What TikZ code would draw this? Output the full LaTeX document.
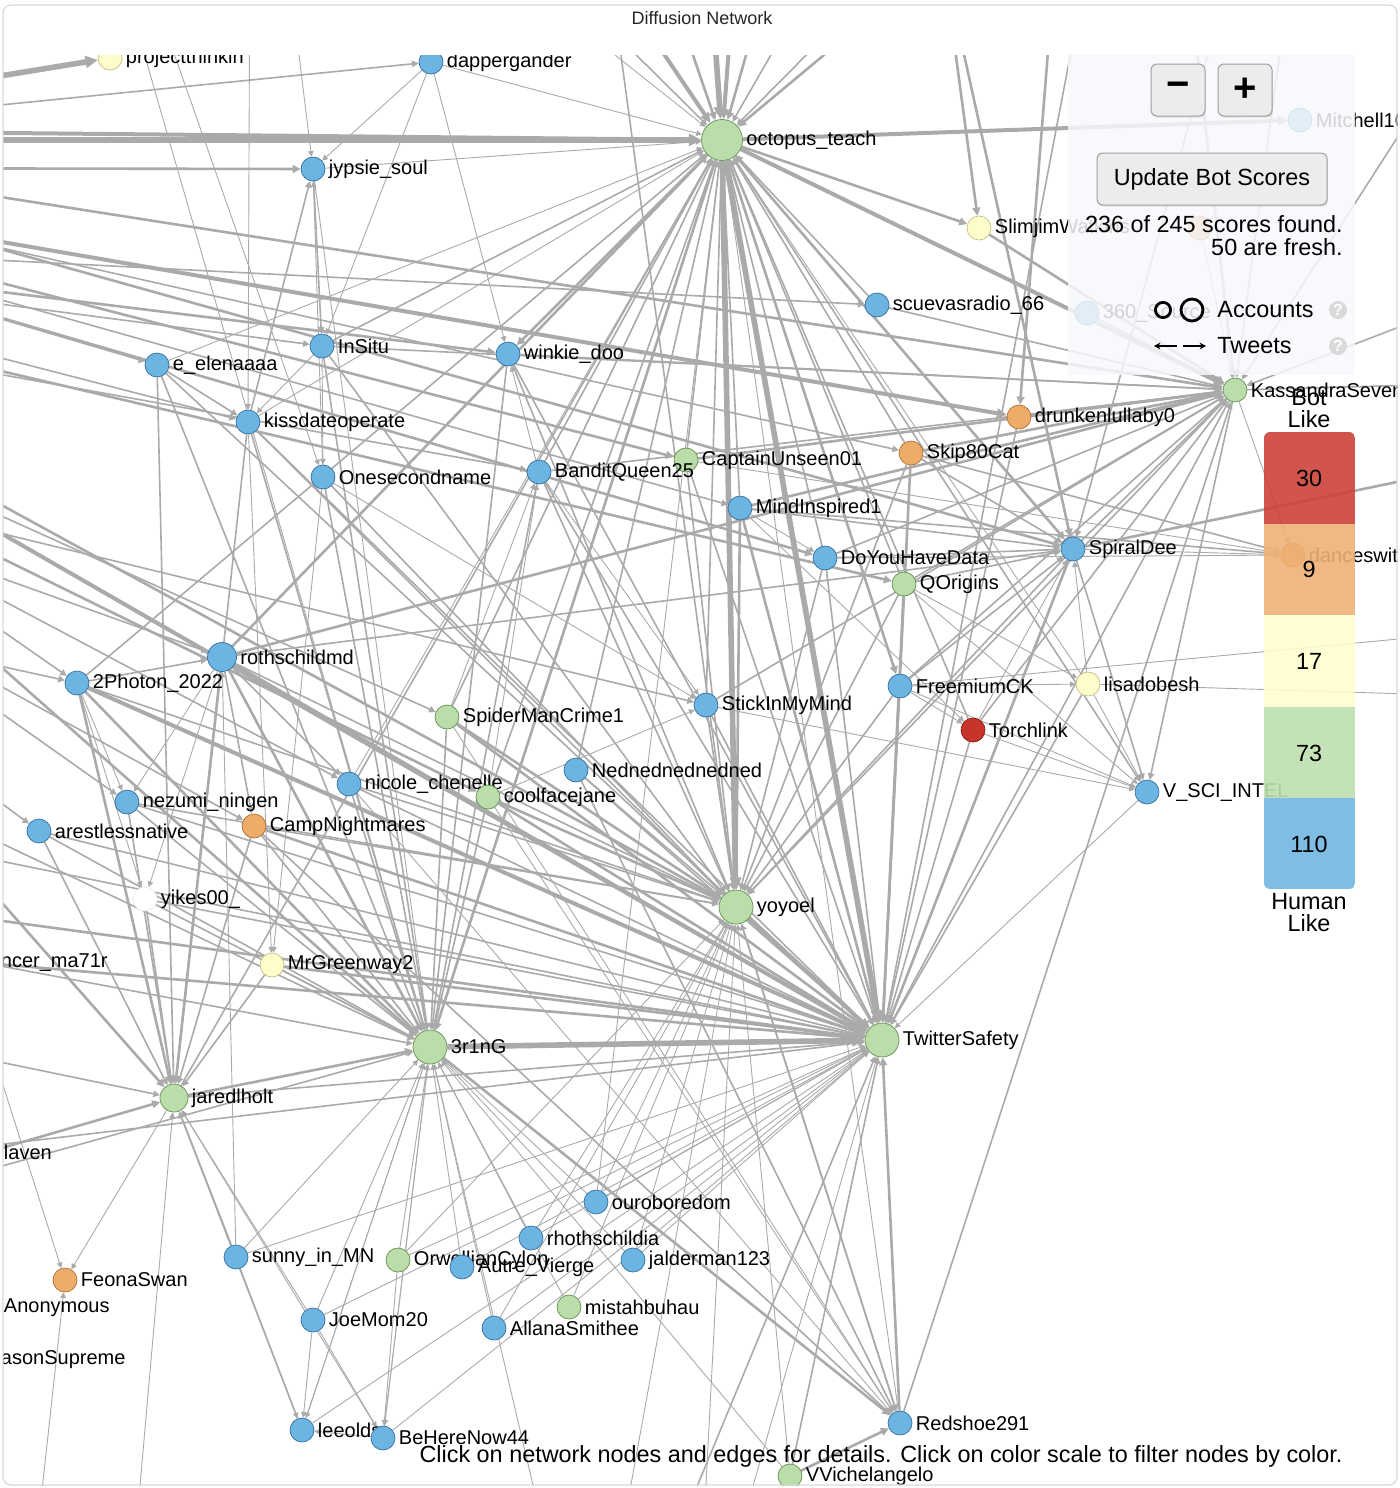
\documentclass[tikz,border=0pt]{standalone}
\usepackage{fontspec}
\setmainfont{Liberation Sans}
\usetikzlibrary{arrows.meta,shadows}

\definecolor{acctblue}{RGB}{108,180,226}
\definecolor{acctblueline}{RGB}{52,110,160}
\definecolor{acctgreen}{RGB}{186,221,170}
\definecolor{acctgreenline}{RGB}{100,142,84}
\definecolor{acctyellow}{RGB}{255,252,204}
\definecolor{acctyellowline}{RGB}{196,190,130}
\definecolor{acctorange}{RGB}{238,172,104}
\definecolor{acctorangeline}{RGB}{170,110,50}
\definecolor{acctred}{RGB}{200,52,44}
\definecolor{acctredline}{RGB}{130,30,25}
\definecolor{edgegray}{RGB}{170,170,170}
\definecolor{panelwhite}{RGB}{246,248,251}
\definecolor{barred}{RGB}{204,66,56}
\definecolor{barorange}{RGB}{238,176,116}
\definecolor{baryellow}{RGB}{255,253,206}
\definecolor{bargreen}{RGB}{190,223,176}
\definecolor{barblue}{RGB}{112,183,226}

\pgfdeclarelayer{edges}
\pgfsetlayers{edges,main}

\newcommand{\lblfont}{\fontsize{10}{12}\selectfont}
\newcommand{\uifont}{\fontsize{11.7}{14}\selectfont}

\tikzset{
  acct/.style={circle,draw,line width=0.35pt,inner sep=0pt,minimum size=12pt,
    label distance=0pt},
  every label/.style={font=\lblfont,inner sep=1.6pt,text=black},
  blue node/.style={acct,fill=acctblue,draw=acctblueline},
  green node/.style={acct,fill=acctgreen,draw=acctgreenline},
  yellow node/.style={acct,fill=acctyellow,draw=acctyellowline},
  orange node/.style={acct,fill=acctorange,draw=acctorangeline},
  red node/.style={acct,fill=acctred,draw=acctredline},
  white node/.style={acct,fill=white,draw=gray!15},
  hub/.style={minimum size=17pt},
  big hub/.style={minimum size=20.5pt},
  tw/.style={every edge/.style={draw=edgegray,line width=#1,
    -{Triangle[length=2.2pt 1.4,width=2.2pt 1.3]}}},
  e0/.style={tw=0.45pt},
  e1/.style={tw=0.8pt},
  e2/.style={tw=1.3pt},
  e3/.style={tw=2pt},
  e4/.style={tw=2.8pt},
  btn/.style={draw=gray!75,fill=gray!15,rounded corners=3pt,line width=0.5pt,
    drop shadow={opacity=0.2,shadow xshift=0.4pt,shadow yshift=-0.8pt}},
  qmark/.style={circle,fill=gray!30,text=white,inner sep=0pt,minimum size=9pt,
    font=\fontsize{8}{8}\selectfont\bfseries},
  legend arrow/.style={line width=0.9pt,-{Stealth[length=3.2pt,width=3.4pt]}}
}

\begin{document}
\begin{tikzpicture}[x=0.5pt,y=-0.5pt]
\useasboundingbox (0,0) rectangle (1400,1488);

% accounts
\begin{scope}
\clip (3,55) rectangle (1397,1485);
\node[yellow node] (proj) at (110,58) [label=right:projectthinkin] {};
\node[blue node] (dapper) at (431,62) [label=right:dappergander] {};
\node[green node,big hub] (octo) at (722,140) [label=right:octopus\_teach] {};
\node[blue node] (jypsie) at (313,169) [label=right:jypsie\_soul] {};
\node[blue node] (mitch) at (1300,120) [label=right:Mitchell10] {};
\node[yellow node] (slim) at (979,228) [label=right:SlimjimWatkins] {};
\node[orange node] (ghoul) at (1200,228) {};
\node[blue node] (scuev) at (877,305) [label=right:scuevasradio\_66] {};
\node[blue node] (sixty) at (1087,313) [label=right:360\_Source] {};
\node[blue node] (insitu) at (322,346) [label=right:InSitu] {};
\node[blue node] (elena) at (157,365) [label=right:e\_elenaaaa] {};
\node[blue node] (winkie) at (508,354) [label=right:winkie\_doo] {};
\node[green node] (kass) at (1235,390) [label=right:KassandraSever] {};
\node[orange node] (drunk) at (1019,417) [label=right:drunkenlullaby0] {};
\node[blue node] (kiss) at (248,422) [label=right:kissdateoperate] {};
\node[orange node] (skip) at (911,453) [label=right:Skip80Cat] {};
\node[green node] (capt) at (686,460) [label=right:CaptainUnseen01] {};
\node[blue node] (onesec) at (323,477) [label=right:Onesecondname] {};
\node[blue node] (bandit) at (539,472) [label=right:BanditQueen25] {};
\node[blue node] (mind) at (740,508) [label=right:MindInspired1] {};
\node[blue node] (doyou) at (825,558) [label=right:DoYouHaveData] {};
\node[green node] (qorig) at (904,584) [label=right:QOrigins] {};
\node[blue node] (spiral) at (1073,549) [label=right:SpiralDee] {};
\node[orange node] (dance) at (1293,555) [label=right:danceswith] {};
\node[blue node,minimum size=14.5pt] (roth) at (222,657) [label=right:rothschildmd] {};
\node[blue node] (photon) at (77,683) [label=right:2Photon\_2022] {};
\node[green node] (spider) at (447,717) [label=right:SpiderManCrime1] {};
\node[blue node] (stick) at (706,705) [label=right:StickInMyMind] {};
\node[blue node] (freem) at (900,686) [label=right:FreemiumCK] {};
\node[yellow node] (lisa) at (1088,684) [label=right:lisadobesh] {};
\node[red node] (torch) at (973,730) [label=right:Torchlink] {};
\node[blue node] (ned) at (576,770) [label=right:Nednednednedned] {};
\node[blue node] (nicole) at (349,784) [label=right:nicole\_chenelle] {};
\node[green node] (coolf) at (488,797) [label=right:coolfacejane] {};
\node[blue node] (nezumi) at (127,802) [label=right:nezumi\_ningen] {};
\node[blue node] (arest) at (39,831) [label=right:arestlessnative] {};
\node[orange node] (camp) at (254,826) [label=right:CampNightmares] {};
\node[blue node] (vsci) at (1147,792) [label=right:V\_SCI\_INTEL] {};
\node[white node] (yikes) at (145,899) [label=right:yikes00\_] {};
\node[green node,hub] (yoyoel) at (736,907) [label=right:yoyoel] {};
\node[blue node] (cancer) at (-15,963) [label=right:ncer\_ma71r] {};
\node[yellow node] (mrgreen) at (272,965) [label=right:MrGreenway2] {};
\node[green node,hub] (rng) at (430,1047) [label=right:3r1nG] {};
\node[green node,hub] (twit) at (882,1040) [label=right:TwitterSafety] {};
\node[green node,minimum size=14pt] (jared) at (174,1098) [label=right:jaredlholt] {};
\node[blue node] (laven) at (-12,1152) [label=right:laven] {};
\node[blue node] (ouro) at (596,1202) [label=right:ouroboredom] {};
\node[blue node] (rhoth) at (531,1238) [label=right:rhothschildia] {};
\node[blue node] (sunny) at (236,1257) [label=right:sunny\_in\_MN] {};
\node[green node] (orwell) at (398,1260) [label=right:OrwellianCylon] {};
\node[blue node] (autre) at (462,1267) [label=right:Autre\_Vierge] {};
\node[blue node] (jalder) at (633,1260) [label=right:jalderman123] {};
\node[orange node] (feona) at (65,1280) [label=right:FeonaSwan] {};
\node[green node] (mistah) at (569,1307) [label=right:mistahbuhau] {};
\node[blue node] (anon) at (-12,1308) [label=right:Anonymous] {};
\node[blue node] (joemom) at (313,1320) [label=right:JoeMom20] {};
\node[blue node] (allana) at (494,1328) [label=right:AllanaSmithee] {};
\node[blue node] (ason) at (-15,1360) [label=right:asonSupreme] {};
\node[blue node] (redshoe) at (900,1423) [label=right:Redshoe291] {};
\node[blue node] (leeolds) at (302,1430) [label=right:leeolds] {};
\node[blue node] (behere) at (383,1438) [label=right:BeHereNow44] {};
\node[green node] (vvich) at (790,1476) [label=right:VVichelangelo] {};
\end{scope}

% accounts outside the view
\coordinate (wa) at (-300,125);  \coordinate (wb) at (-300,140);
\coordinate (wc) at (-300,130);  \coordinate (wd) at (-300,168);
\coordinate (we) at (-300,135);  \coordinate (wf) at (-300,150);
\coordinate (wg) at (-300,165);  \coordinate (wh) at (-300,180);
\coordinate (wi) at (-300,190);  \coordinate (wj) at (-300,205);
\coordinate (wk) at (-300,215);  \coordinate (wl) at (-300,230);
\coordinate (wm) at (-300,245);  \coordinate (wn) at (-300,255);
\coordinate (wo) at (-300,265);  \coordinate (wp) at (-300,280);
\coordinate (wq) at (-300,300);  \coordinate (wr) at (-300,320);
\coordinate (ws) at (-300,340);  \coordinate (wt) at (-300,360);
\coordinate (wu) at (-300,380);  \coordinate (wv) at (-300,400);
\coordinate (ww) at (-300,410);  \coordinate (wx) at (-300,440);
\coordinate (wy) at (-300,460);  \coordinate (wz) at (-300,470);
\coordinate (va) at (-300,520);  \coordinate (vb) at (-300,560);
\coordinate (vc) at (-300,600);  \coordinate (vd) at (-300,700);
\coordinate (ve) at (-300,800);  \coordinate (vf) at (-300,880);
\coordinate (vg) at (-300,1000); \coordinate (vh) at (-300,1180);
\coordinate (vi) at (-300,1250); \coordinate (vj) at (-40,950);
\coordinate (vk) at (-300,420);  \coordinate (vl) at (-300,580);
\coordinate (vm) at (-300,500);  \coordinate (vn) at (-300,230);
\coordinate (tA) at (560,-100);  \coordinate (tB) at (640,-100);
\coordinate (tC) at (705,-100);  \coordinate (tD) at (740,-100);
\coordinate (tE) at (790,-100);  \coordinate (tF) at (860,-100);
\coordinate (tG) at (960,-100);  \coordinate (tH) at (480,-100);
\coordinate (tI) at (420,-100);  \coordinate (tJ) at (1010,-100);
\coordinate (tK) at (935,-100);  \coordinate (tL) at (930,-100);
\coordinate (tM) at (280,-100);  \coordinate (tN) at (250,-100);
\coordinate (tO) at (120,-100);  \coordinate (tP) at (1300,-100);
\coordinate (tQ) at (1180,-100); \coordinate (tR) at (1250,-100);
\coordinate (tS) at (1060,-100); \coordinate (tT) at (1100,-100);
\coordinate (tU) at (600,-100);  \coordinate (tV) at (100,-100);
\coordinate (ra) at (1600,440);  \coordinate (rb) at (1600,380);
\coordinate (rc) at (1600,620);  \coordinate (rd) at (1600,250);
\coordinate (re) at (1600,700);  \coordinate (rf) at (1550,-100);
\coordinate (bA) at (650,1600);  \coordinate (bB) at (560,1600);
\coordinate (bC) at (610,1600);  \coordinate (bD) at (30,1600);
\coordinate (bE) at (130,1600);  \coordinate (bF) at (720,1600);
\coordinate (bG) at (700,1600);

% tweets
\begin{pgfonlayer}{edges}
\begin{scope}
\clip (3,55) rectangle (1397,1485);
% from off the left edge
\path[e4] (wa) edge (proj) (wb) edge (octo);
\path[e3] (wc) edge (octo) (wi) edge (drunk) (wt) edge (twit);
\path[e2] (wd) edge (jypsie) (wf) edge (kass) (wg) edge (spiral)
  (wj) edge (capt) (wl) edge (doyou) (wn) edge (winkie) (wq) edge (qorig)
  (ws) edge (yoyoel) (wv) edge (rng) (ww) edge (coolf) (vb) edge (jared)
  (vf) edge (twit) (laven) edge (jared) (cancer) edge (twit);
\path[e1] (we) edge (dapper) (wh) edge (skip) (wk) edge (mind)
  (wm) edge (scuev) (wo) edge (insitu) (wp) edge (kiss) (wr) edge (bandit)
  (wu) edge (spider) (wx) edge (nicole) (wy) edge (stick) (wz) edge (roth)
  (va) edge (camp) (vc) edge (photon) (vd) edge (rng) (ve) edge (twit)
  (vg) edge (jared) (vh) edge (twit) (vi) edge (rng) (vk) edge (photon)
  (vl) edge (arest) (vm) edge (nezumi) (vn) edge (elena) (cancer) edge (rng);
\path[e0] (vj) edge (feona);
% from off the top edge
\path[e4] (tC) edge (octo);
\path[e3] (tA) edge (octo) (tD) edge (octo);
\path[e2] (tB) edge (octo) (tE) edge (octo) (tJ) edge (octo) (tK) edge (slim)
  (tL) edge (spiral) (tQ) edge (kass) (tS) edge (drunk);
\path[e1] (tF) edge (octo) (tG) edge (octo) (tH) edge (octo) (tP) edge (kass)
  (tR) edge (spiral) (tT) edge (twit) (tU) edge (yoyoel);
\path[e0] (tI) edge (octo) (tM) edge (jypsie) (tN) edge (kiss)
  (tO) edge (onesec) (tV) edge (rng);
% off the right and bottom edges
\path[e2] (spiral) edge (ra);
\path[e1] (kass) edge (rb) (rd) edge (kass) (rf) edge (kass) (bA) edge (twit);
\path[e0] (freem) edge (rc) (lisa) edge (re) (bB) edge (rng) (bC) edge (yoyoel)
  (bD) edge (feona) (bE) edge (jared) (bF) edge (twit) (bG) edge (yoyoel);
% between accounts
\path[e4] (octo) edge (yoyoel) (octo) edge (twit) (rng) edge (twit);
\path[e3] (octo) edge (kass) (octo) edge (mitch) (yoyoel) edge (twit)
  (photon) edge (twit);
\path[e2] (octo) edge (rng) (roth) edge (octo) (octo) edge (winkie)
  (octo) edge (freem) (octo) edge (spiral) (octo) edge (slim)
  (spiral) edge (twit) (skip) edge (twit) (mind) edge (twit) (qorig) edge (twit)
  (roth) edge (kass) (photon) edge (rng) (roth) edge (rng) (roth) edge (jared)
  (photon) edge (jared) (camp) edge (twit) (mrgreen) edge (twit) (coolf) edge (twit)
  (roth) edge (twit) (spider) edge (twit) (rng) edge (redshoe) (vvich) edge (redshoe)
  (redshoe) edge (twit) (jared) edge (rng) (spider) edge (yoyoel) (coolf) edge (yoyoel)
  (mind) edge (yoyoel) (drunk) edge (kass) (skip) edge (kass) (capt) edge (kass)
  (mind) edge (kass) (slim) edge (kass);
\path[e1] (octo) edge (vsci) (roth) edge (spiral) (kass) edge (twit)
  (drunk) edge (twit) (doyou) edge (twit) (nicole) edge (yoyoel)
  (capt) edge (yoyoel) (stick) edge (yoyoel) (kiss) edge (jypsie)
  (elena) edge (kiss) (jypsie) edge (insitu)
  (bandit) edge (octo) (capt) edge (octo) (mind) edge (octo) (doyou) edge (octo)
  (qorig) edge (octo) (stick) edge (octo) (torch) edge (octo) (ned) edge (octo)
  (spider) edge (octo) (coolf) edge (octo) (insitu) edge (octo) (skip) edge (octo)
  (scuev) edge (octo) (photon) edge (octo) (jared) edge (octo)
  (roth) edge (yoyoel) (photon) edge (yoyoel) (ned) edge (yoyoel) (bandit) edge (yoyoel)
  (winkie) edge (yoyoel) (kiss) edge (yoyoel) (onesec) edge (yoyoel) (insitu) edge (yoyoel)
  (doyou) edge (yoyoel) (freem) edge (yoyoel) (qorig) edge (yoyoel) (skip) edge (yoyoel)
  (kass) edge (yoyoel) (spiral) edge (yoyoel) (camp) edge (yoyoel) (nezumi) edge (yoyoel)
  (nicole) edge (twit) (jared) edge (twit) (nezumi) edge (twit) (arest) edge (twit)
  (yikes) edge (twit) (ned) edge (twit) (stick) edge (twit) (freem) edge (twit)
  (torch) edge (twit) (bandit) edge (twit) (capt) edge (twit) (winkie) edge (twit)
  (kiss) edge (twit) (elena) edge (twit) (lisa) edge (twit) (vvich) edge (twit)
  (nezumi) edge (rng) (arest) edge (rng) (camp) edge (rng) (yikes) edge (rng)
  (mrgreen) edge (rng) (nicole) edge (rng) (spider) edge (rng) (coolf) edge (rng)
  (kiss) edge (rng) (elena) edge (rng) (onesec) edge (rng) (insitu) edge (rng)
  (bandit) edge (rng) (winkie) edge (rng)
  (nezumi) edge (jared) (arest) edge (jared) (yikes) edge (jared) (camp) edge (jared)
  (mrgreen) edge (jared) (elena) edge (jared) (kiss) edge (jared) (sunny) edge (jared)
  (leeolds) edge (jared)
  (bandit) edge (kass) (winkie) edge (kass) (insitu) edge (kass) (scuev) edge (kass)
  (doyou) edge (kass) (qorig) edge (kass) (sixty) edge (kass) (spiral) edge (kass)
  (stick) edge (kass) (freem) edge (kass) (torch) edge (kass) (redshoe) edge (kass)
  (doyou) edge (spiral) (qorig) edge (spiral) (mind) edge (spiral) (skip) edge (spiral)
  (freem) edge (spiral) (spiral) edge (vsci) (kass) edge (vsci)
  (mind) edge (dance) (skip) edge (dance) (photon) edge (roth) (roth) edge (camp)
  (roth) edge (nicole) (yoyoel) edge (redshoe) (camp) edge (redshoe) (ned) edge (redshoe)
  (redshoe) edge (yoyoel);
\path[e0] (dapper) edge (octo) (dapper) edge (jypsie) (dapper) edge (insitu)
  (dapper) edge (winkie) (lisa) edge (spiral) (torch) edge (spiral)
  (lisa) edge (vsci) (freem) edge (vsci) (torch) edge (vsci) (qorig) edge (vsci)
  (stick) edge (vsci) (vsci) edge (twit) (doyou) edge (dance) (capt) edge (dance)
  (spiral) edge (dance) (kass) edge (dance) (freem) edge (lisa) (qorig) edge (lisa)
  (freem) edge (torch) (mind) edge (torch) (mind) edge (doyou) (ghoul) edge (kass)
  (lisa) edge (octo) (nicole) edge (octo) (kiss) edge (octo) (redshoe) edge (octo)
  (jypsie) edge (octo) (elena) edge (octo) (ouro) edge (octo)
  (bandit) edge (winkie) (spider) edge (bandit) (coolf) edge (bandit) (bandit) edge (stick)
  (coolf) edge (stick) (onesec) edge (stick)
  (insitu) edge (onesec) (onesec) edge (jypsie) (insitu) edge (kiss)
  (kiss) edge (mrgreen) (onesec) edge (mrgreen) (photon) edge (yikes) (roth) edge (yikes)
  (photon) edge (nezumi) (roth) edge (nezumi) (sunny) edge (roth)
  (spider) edge (redshoe) (nicole) edge (redshoe) (coolf) edge (redshoe)
  (vvich) edge (yoyoel) (vvich) edge (rng)
  (sunny) edge (twit) (orwell) edge (twit) (rhoth) edge (twit) (autre) edge (twit)
  (jalder) edge (twit) (mistah) edge (twit) (ouro) edge (twit) (allana) edge (twit)
  (joemom) edge (twit) (behere) edge (twit) (leeolds) edge (twit)
  (ouro) edge (rng) (rhoth) edge (rng) (orwell) edge (rng) (autre) edge (rng)
  (sunny) edge (rng) (joemom) edge (rng) (mistah) edge (rng) (allana) edge (rng)
  (jalder) edge (rng) (behere) edge (rng) (leeolds) edge (rng)
  (ouro) edge (yoyoel) (jalder) edge (yoyoel) (mistah) edge (yoyoel) (rhoth) edge (yoyoel)
  (allana) edge (yoyoel) (orwell) edge (yoyoel)
  (joemom) edge (jared) (behere) edge (jared) (jared) edge (feona)
  (behere) edge (leeolds) (joemom) edge (leeolds) (sunny) edge (leeolds)
  (rng) edge (leeolds) (rng) edge (behere) (orwell) edge (behere) (joemom) edge (behere)
  (jypsie) edge (rng);
\end{scope}
\end{pgfonlayer}

% legend panel
\fill[panelwhite,fill opacity=0.85] (1068,55) rectangle (1355,375);
\node[btn,minimum width=27pt,minimum height=26pt,
  font=\fontsize{20}{20}\selectfont\bfseries] (zoomout) at (1178,90) {−};
\node[btn,minimum width=27pt,minimum height=26pt,
  font=\fontsize{20}{20}\selectfont\bfseries] (zoomin) at (1245,90) {+};
\node[btn,minimum width=115pt,minimum height=26pt,font=\uifont] (update)
  at (1212,179) {Update Bot Scores};
\node[anchor=east,inner sep=0pt,font=\uifont] (found) at (1343,224) {236 of 245 scores found.};
\node[anchor=east,inner sep=0pt,font=\uifont] (fresh) at (1343,247) {50 are fresh.};
\draw[line width=1.4pt] (1163,310) circle[radius=3.8pt] (1192,310) circle[radius=5.5pt];
\node[anchor=west,inner sep=0pt,font=\uifont] (accounts) at (1217,310) {Accounts};
\coordinate (tweetl) at (1177,346);
\coordinate (tweetr) at (1183,346);
\draw[legend arrow] (tweetl) -- ++(-23,0);
\draw[legend arrow] (tweetr) -- ++(23,0);
\node[anchor=west,inner sep=0pt,font=\uifont] (tweets) at (1217,346) {Tweets};
\node[qmark] (helpa) at (1338,310) {?};
\node[qmark] (helpb) at (1338,346) {?};

% color scale
\begin{scope}[fill opacity=0.9]
\clip[rounded corners=3pt] (1264,432) rectangle (1355,889);
\fill[barred] (1264,432) rectangle (1355,524);
\fill[barorange] (1264,524) rectangle (1355,615);
\fill[baryellow] (1264,615) rectangle (1355,707);
\fill[bargreen] (1264,707) rectangle (1355,798);
\fill[barblue] (1264,798) rectangle (1355,889);
\end{scope}
\node[font=\uifont] (nred) at (1309,478) {30};
\node[font=\uifont] (norange) at (1309,569) {9};
\node[font=\uifont] (nyellow) at (1309,661) {17};
\node[font=\uifont] (ngreen) at (1309,753) {73};
\node[font=\uifont] (nblue) at (1309,844) {110};
\node[font=\fontsize{11.7}{11}\selectfont,align=center,inner sep=0pt] (botlike)
  at (1309,409) {Bot\\Like};
\node[font=\fontsize{11.7}{11}\selectfont,align=center,inner sep=0pt] (humanlike)
  at (1309,913) {Human\\Like};

% frame, title, hint
\node[font=\fontsize{9}{11}\selectfont,text=black!85] (title) at (702,18) {Diffusion Network};
\node[font=\uifont,anchor=east,inner sep=0pt] (hint) at (1343,1456)
  {Click on network nodes and edges for details. Click on color scale to filter nodes by color.};
\draw[gray!30,line width=0.6pt,rounded corners=4pt] (3,5) rectangle (1397,1485);
\end{tikzpicture}
\end{document}
